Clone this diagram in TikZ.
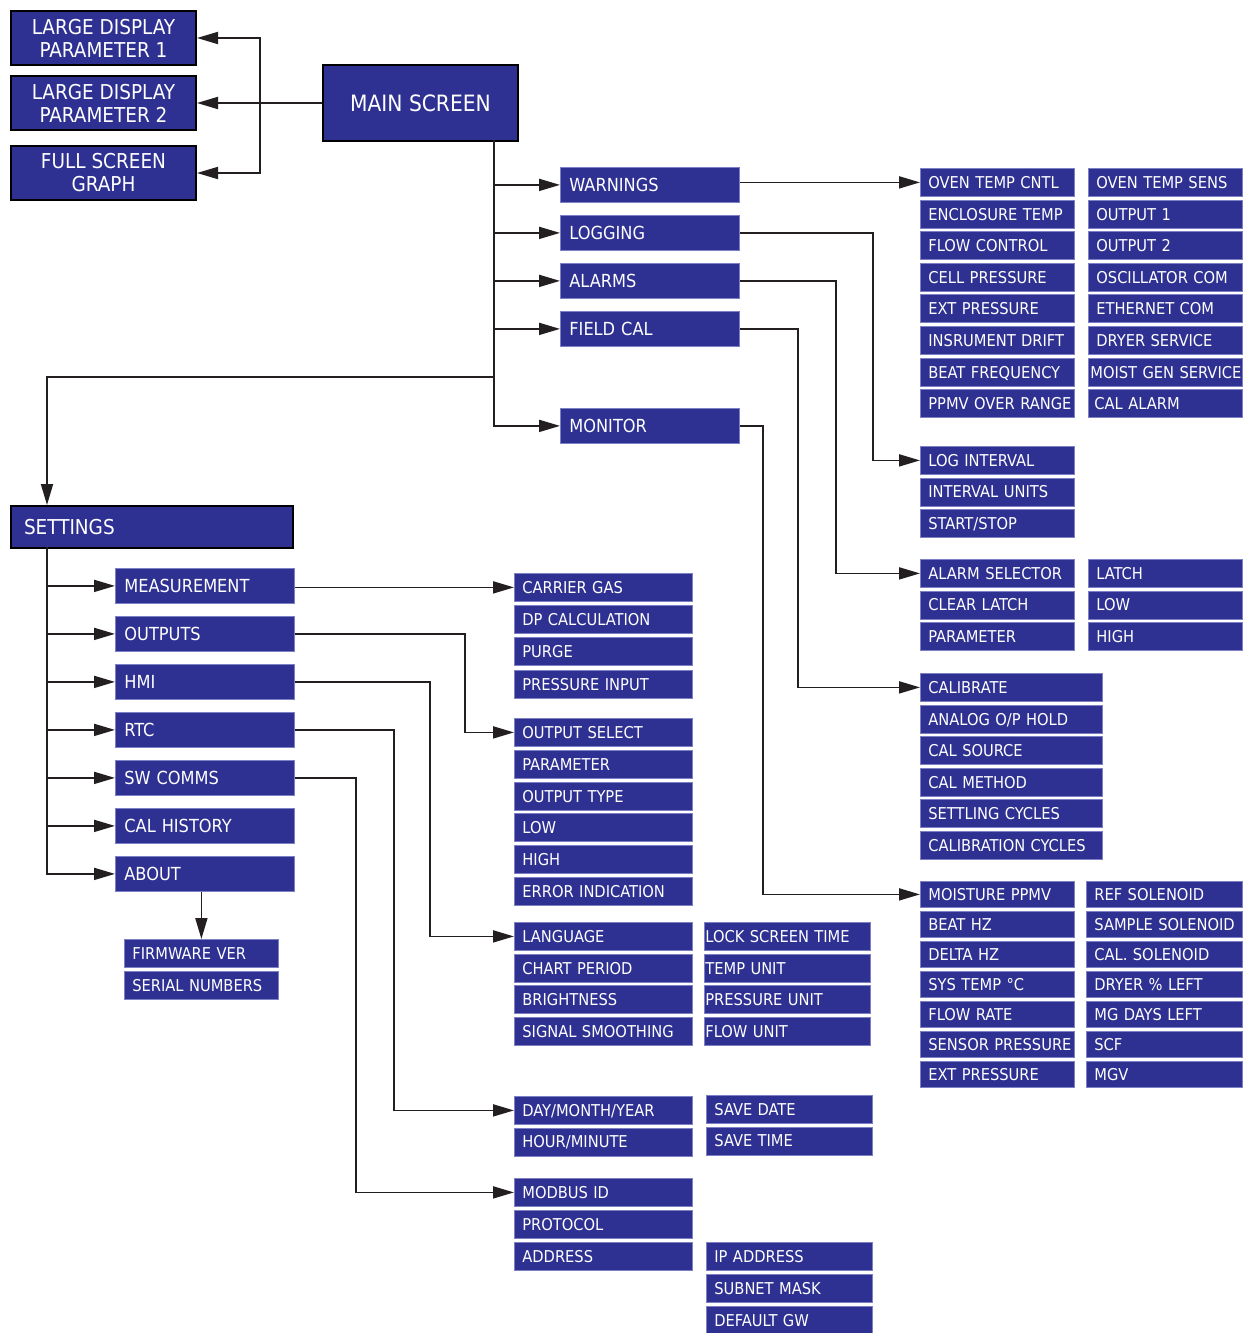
\documentclass[tikz,border=0pt]{standalone}
\usepackage{fontspec}
\usetikzlibrary{arrows.meta}
\usetikzlibrary{calc}
\newfontfamily\menufont{DejaVu Sans Condensed}
\newcommand{\topfont}{\menufont\fontsize{20.5}{23}\selectfont}
\newcommand{\mainfont}{\menufont\fontsize{22.5}{24}\selectfont}
\newcommand{\midfont}{\menufont\fontsize{18}{21}\selectfont}
\newcommand{\leaffont}{\menufont\fontsize{16.3}{20}\selectfont}
\definecolor{menublue}{RGB}{46, 49, 146}
\definecolor{menuedge}{RGB}{125, 128, 196}
\definecolor{linegray}{RGB}{35, 31, 32}
\tikzset{
  leaf/.style={fill=menublue, draw=menuedge, line width=0.8pt, text=white, font=\leaffont,
    anchor=north west, inner xsep=8pt, inner ysep=0pt, minimum height=28pt,
    text height=12pt, text depth=0pt, align=left, text width=138pt},
  mid/.style={leaf, font=\midfont, minimum height=35pt, text height=13pt,
    inner xsep=9pt, text width=161pt},
  topbox/.style={fill=menublue, draw=black, line width=2pt, text=white, font=\topfont,
    anchor=north west, align=center, inner sep=0pt},
  arrow/.style={draw=linegray, line width=1.8pt, -{Triangle[length=21pt,width=12pt]}}
}
\newcommand{\menucol}[6]{%
  \foreach \entry [count=\k] in {#6}
    \node[leaf, #5] (#1-\k) at ({#2},{#3+(\k-1)*#4}) {\mbox{\entry}};
}

\begin{document}
\begin{tikzpicture}[x=1pt, y=-1pt]
\useasboundingbox (0,0) rectangle (1249,1333);
\fill[white] (0,0) rectangle (1249,1333);

\node[topbox, minimum width=185pt, minimum height=54pt] (ldp1) at (10,10) {LARGE DISPLAY\\PARAMETER 1};
\node[topbox, minimum width=185pt, minimum height=54pt] (ldp2) at (10,75) {LARGE DISPLAY\\PARAMETER 2};
\node[topbox, minimum width=185pt, minimum height=54pt] (fsg) at (10,145) {FULL SCREEN\\GRAPH};
\node[topbox, minimum width=195pt, minimum height=76pt, font=\mainfont] (main) at (322,64) {MAIN SCREEN};
\node[topbox, align=left, minimum height=42pt, inner xsep=13pt, text width=256pt,
  text height=15pt, text depth=0pt] (settings) at (10,505) {SETTINGS};

\node[mid] (warnings) at (560,167) {WARNINGS};
\node[mid] (logging) at (560,215) {LOGGING};
\node[mid] (alarms) at (560,263) {ALARMS};
\node[mid] (fieldcal) at (560,311) {FIELD CAL};
\node[mid] (monitor) at (560,408) {MONITOR};

\node[mid] (measurement) at (115,568) {MEASUREMENT};
\node[mid] (outputs) at (115,616) {OUTPUTS};
\node[mid] (hmi) at (115,664) {HMI};
\node[mid] (rtc) at (115,712) {RTC};
\node[mid] (swcomms) at (115,760) {SW COMMS};
\node[mid] (calhistory) at (115,808) {CAL HISTORY};
\node[mid] (about) at (115,856) {ABOUT};

\menucol{warn}{920}{168}{31.6}{}{OVEN TEMP CNTL, ENCLOSURE TEMP, FLOW CONTROL, CELL PRESSURE, EXT PRESSURE, INSRUMENT DRIFT, BEAT FREQUENCY, PPMV OVER RANGE}
\menucol{warnb}{1088}{168}{31.6}{}{OVEN TEMP SENS, OUTPUT 1, OUTPUT 2, OSCILLATOR COM, ETHERNET COM, DRYER SERVICE, \hspace*{-6pt}MOIST GEN SERVICE, \hspace*{-2pt}CAL ALARM}
\menucol{log}{920}{446}{31.5}{}{LOG INTERVAL, INTERVAL UNITS, START/STOP}
\menucol{alarm}{920}{559}{31.5}{}{ALARM SELECTOR, CLEAR LATCH, PARAMETER}
\menucol{alarmb}{1088}{559}{31.5}{}{LATCH, LOW, HIGH}
\menucol{cal}{920}{673}{31.6}{text width=166pt}{CALIBRATE, ANALOG O/P HOLD, CAL SOURCE, CAL METHOD, SETTLING CYCLES, CALIBRATION CYCLES}
\menucol{mon}{920}{881}{30}{minimum height=26pt}{MOISTURE PPMV, BEAT HZ, DELTA HZ, SYS TEMP °C, FLOW RATE, SENSOR PRESSURE, EXT PRESSURE}
\menucol{monb}{1086}{881}{30}{minimum height=26pt, text width=140pt}{REF SOLENOID, SAMPLE SOLENOID, CAL. SOLENOID, DRYER \% LEFT, MG DAYS LEFT, SCF, MGV}

\menucol{meas}{514}{573}{32.2}{text width=162pt}{CARRIER GAS, DP CALCULATION, PURGE, PRESSURE INPUT}
\menucol{out}{514}{718}{31.8}{text width=162pt}{OUTPUT SELECT, PARAMETER, OUTPUT TYPE, LOW, HIGH, ERROR INDICATION}
\menucol{disp}{514}{922}{31.7}{text width=162pt}{LANGUAGE, CHART PERIOD, BRIGHTNESS, SIGNAL SMOOTHING}
\menucol{dispb}{704}{922}{31.7}{inner xsep=1pt, text width=164pt}{LOCK SCREEN TIME, TEMP UNIT, PRESSURE UNIT, FLOW UNIT}
\menucol{clock}{514}{1096}{31.5}{text width=162pt}{DAY/MONTH/YEAR, HOUR/MINUTE}
\menucol{clockb}{706}{1095}{31.5}{text width=150pt}{SAVE DATE, SAVE TIME}
\menucol{comms}{514}{1178}{32}{text width=162pt}{MODBUS ID, PROTOCOL, ADDRESS}
\menucol{commsb}{706}{1242}{32}{text width=150pt}{IP ADDRESS, SUBNET MASK, DEFAULT GW}
\menucol{info}{124}{939}{32}{}{FIRMWARE VER, SERIAL NUMBERS}

\coordinate (hub) at (260,102);
\coordinate (trunk) at (494,140);
\coordinate (split) at (494,377);
\coordinate (setin) at (47,505);
\coordinate (setbus) at (47,547);

\draw[arrow] (main.west) -- (ldp2.east);
\draw[arrow] (hub) |- (ldp1.east);
\draw[arrow] (hub) |- (fsg.east);
\foreach \n in {warnings, logging, alarms, fieldcal, monitor}
  \draw[arrow] (trunk) |- (\n.west);
\draw[arrow] (split) -| (setin);

\draw[arrow] (warnings.east |- warn-1.west) -- (warn-1.west);
\draw[arrow] (logging.east) -- ++(133,0) |- (log-1.west);
\draw[arrow] (alarms.east) -- ++(96,0) |- (alarm-1.west);
\draw[arrow] (fieldcal.east) -- ++(58,0) |- (cal-1.west);
\draw[arrow] (monitor.east) -- ++(23,0) |- (mon-1.west);

\foreach \n in {measurement, outputs, hmi, rtc, swcomms, calhistory, about}
  \draw[arrow] (setbus) |- (\n.west);
\draw[arrow] (measurement.east |- meas-1.west) -- (meas-1.west);
\draw[arrow] (outputs.east) -- ++(170,0) |- (out-1.west);
\draw[arrow] (hmi.east) -- ++(135,0) |- (disp-1.west);
\draw[arrow] (rtc.east) -- ++(99,0) |- (clock-1.west);
\draw[arrow] (swcomms.east) -- ++(61,0) |- (comms-1.west);
\draw[arrow] (about.south -| info-1.north) -- (info-1.north);
\end{tikzpicture}
\end{document}
